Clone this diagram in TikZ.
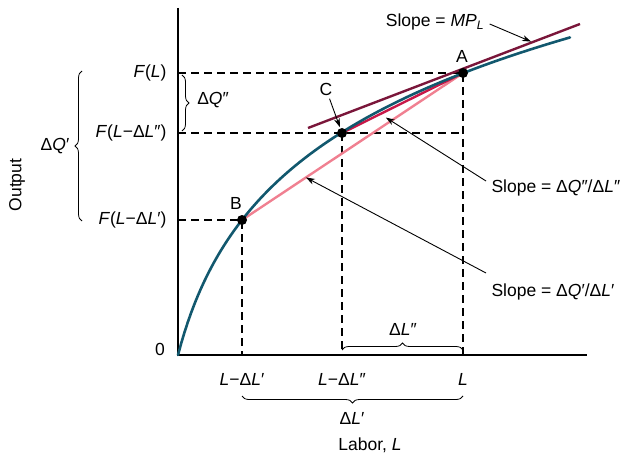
\documentclass[tikz,border=0pt]{standalone}
\usepackage{fontspec}
\setmainfont{Liberation Sans}
\usepackage{tikz}
\usetikzlibrary{positioning, arrows.meta, calc, decorations.pathreplacing}
\definecolor{curveteal}{RGB}{18, 88, 110}
\definecolor{mplmaroon}{RGB}{122, 22, 58}
\definecolor{chordred}{RGB}{200, 24, 72}
\definecolor{chordpink}{RGB}{240, 128, 145}

\begin{document}
\begin{tikzpicture}[x=1pt, y=-1pt, >={Stealth[length=9pt, width=6pt]},
    font=\fontsize{17.5}{20}\selectfont,
    guide/.style={dashed, dash pattern=on 8pt off 5pt, line width=1.2pt},
    pt/.style={circle, fill=black, inner sep=0pt, minimum size=10pt},
    brc/.style={decorate, decoration={brace, amplitude=7pt}, line width=0.8pt},
    callout/.style={->, line width=0.9pt, shorten >=1pt}]
  \useasboundingbox (0,0) rectangle (628,457);
  % corners of the plot
  \coordinate (O) at (178,355);
  \coordinate (A) at (463,73);
  \coordinate (B) at (242,220);
  \coordinate (C) at (342,133);

  % dashed guides
  \draw[guide] (O |- A) -- (A) -- (A |- O);
  \draw[guide] (O |- C) -- (A |- C);
  \draw[guide] (C) -- (C |- O);
  \draw[guide] (O |- B) -- (B) -- (B |- O);

  % axes
  \draw[line width=1.4pt] (178,8) -- (O) -- (587,355);

  % lines through A
  \draw[chordpink, line width=2.4pt] (B) -- (A);
  \draw[chordred, line width=2.4pt] (C) -- (A);
  \draw[mplmaroon, line width=2.4pt] (308,128) -- (580,24);

  % production curve
  \draw[curveteal, line width=2.6pt, line cap=round]
    plot[domain=178:570, samples=120] (\x, {355-122.9*ln(1+(\x-178)/32)});

  \node[pt] (ptA) at (A) {};
  \node[pt] (ptB) at (B) {};
  \node[pt] (ptC) at (C) {};
  \node (labA) at (462,56) {A};
  \node (labB) at (236,203) {B};
  \node (labC) at (326,89) {C};
  \draw[callout] (labC) -- (ptC);

  % y-axis labels
  \node[left] (yFL) at (170,73) {\textit{F}(\textit{L})};
  \node[left] (yFC) at (170,133) {\textit{F}(\textit{L}−Δ\textit{L}″)};
  \node[left] (yFB) at (170,220) {\textit{F}(\textit{L}−Δ\textit{L}′)};
  \node (y0) at (160,349) {0};
  \draw[brc] (82,221) -- (82,71);
  \node (dQp) at (55,146) {Δ\textit{Q}′};
  \draw[brc] (182,75) -- (182,131);
  \node (dQpp) at (213,100) {Δ\textit{Q}″};
  \node[rotate=90] (yTitle) at (17,185) {Output};

  % x-axis labels
  \node (xB) at (242,379) {\textit{L}−Δ\textit{L}′};
  \node (xC) at (342,379) {\textit{L}−Δ\textit{L}″};
  \node (xA) at (463,379) {\textit{L}};
  \draw[brc] (342,350) -- (463,350);
  \node (dLpp) at (403,329) {Δ\textit{L}″};
  \draw[brc] (463,396) -- (242,396);
  \node (dLp) at (352,418) {Δ\textit{L}′};
  \node (xTitle) at (370,445) {Labor, \textit{L}};

  % slope callouts
  \node (slMP) at (435,22) {Slope = \textit{MP}\textsubscript{\textit{L}}};
  \coordinate (tipMP) at (532,42);
  \draw[callout] (slMP.east) ++(2,2) -- (tipMP);
  \node[right] (slC) at (488,188) {Slope = Δ\textit{Q}″/Δ\textit{L}″};
  \coordinate (tipC) at (385,117);
  \draw[callout] (slC.west) ++(-2,-7) -- (tipC);
  \node[right] (slB) at (488,292) {Slope = Δ\textit{Q}′/Δ\textit{L}′};
  \coordinate (tipB) at (305,177);
  \draw[callout] (slB.west) ++(-2,-19) -- (tipB);
\end{tikzpicture}
\end{document}
